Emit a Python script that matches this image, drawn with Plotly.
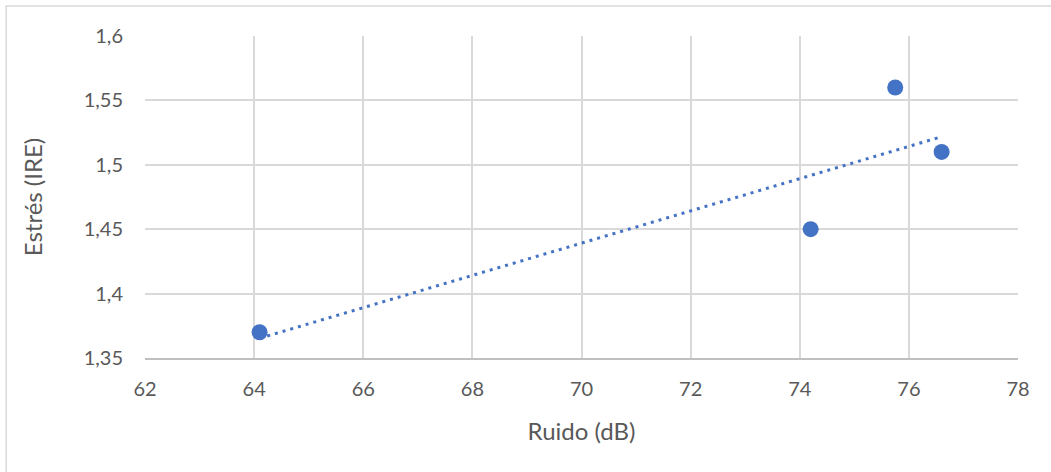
import plotly.graph_objects as go

ruido = [64.1, 74.2, 75.75, 76.6]
estres = [1.37, 1.45, 1.56, 1.51]
trend_x = [64.1, 76.6]
trend_y = [1.3653, 1.5218]
x_ticks = [62, 64, 66, 68, 70, 72, 74, 76, 78]
y_ticks = [1.35, 1.4, 1.45, 1.5, 1.55, 1.6]
y_labels = ["1,35", "1,4", "1,45", "1,5", "1,55", "1,6"]

blue = "#4472C4"
font = "Lato, 'Open Sans', sans-serif"

fig = go.Figure()
fig.add_trace(go.Scatter(x=trend_x, y=trend_y, mode="lines",
                         line=dict(color=blue, width=3, dash="3px,5px"),
                         showlegend=False, hoverinfo="skip"))
fig.add_trace(go.Scatter(x=ruido, y=estres, mode="markers",
                         marker=dict(color=blue, size=16),
                         showlegend=False))

fig.update_layout(
    width=1051, height=472,
    margin=dict(l=145, r=33, t=36, b=114),
    paper_bgcolor="white", plot_bgcolor="white",
    font=dict(family=font, color="#595959", size=20),
    xaxis=dict(range=[62, 78], tickvals=x_ticks, showgrid=True,
               gridcolor="#d9d9d9", gridwidth=1.5, zeroline=False,
               showline=True, linecolor="#bfbfbf", linewidth=1.5,
               ticks="", ticklabelstandoff=12,
               title=dict(text="Ruido (dB)", font=dict(size=24), standoff=24)),
    yaxis=dict(range=[1.35, 1.6], tickvals=y_ticks, ticktext=y_labels,
               showgrid=True, gridcolor="#d9d9d9", gridwidth=1.5,
               zeroline=False, showline=False, ticks="",
               ticklabelstandoff=21,
               title=dict(text="Estrés (IRE)", font=dict(size=24), standoff=34)),
    shapes=[dict(type="rect", xref="paper", yref="paper",
                 x0=-0.159, x1=1.2, y0=-0.5, y1=1.0932,
                 line=dict(color="#d9d9d9", width=1.5),
                 fillcolor="rgba(0,0,0,0)", layer="below")],
)

fig.write_html("out.html", config={"displayModeBar": False},
               post_script="document.body.style.margin='0';")
